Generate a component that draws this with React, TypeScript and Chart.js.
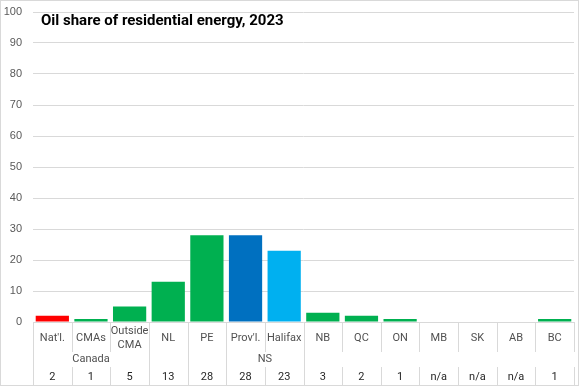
import React, { useEffect, useRef } from "react";
import { Chart, registerables } from "chart.js";

Chart.register(...registerables);

const TITLE = "Oil share of residential energy, 2023";
const categories: string[][] = [
  ["Nat'l."], ["CMAs"], ["Outside", "CMA"], ["NL"], ["PE"], ["Prov'l."], ["Halifax"],
  ["NB"], ["QC"], ["ON"], ["MB"], ["SK"], ["AB"], ["BC"],
];
const values: (number | null)[] = [2, 1, 5, 13, 28, 28, 23, 3, 2, 1, null, null, null, 1];
const valueLabels: string[] = ["2", "1", "5", "13", "28", "28", "23", "3", "2", "1", "n/a", "n/a", "n/a", "1"];
const groupLabels = ["Canada", "NS"];
const groupStart = [0, 5];
const groupEnd = [2, 6];
const barColors = [
  "#ff0000", "#00b050", "#00b050", "#00b050", "#00b050", "#0070c0", "#00b0f0",
  "#00b050", "#00b050", "#00b050", "#00b050", "#00b050", "#00b050", "#00b050",
];
const yTicks = [0, 10, 20, 30, 40, 50, 60, 70, 80, 90, 100];

const LABEL_FONT = "11px Roboto, 'Noto Sans', sans-serif";

const tablePlugin = {
  id: "tablePlugin",
  afterDraw(chart: any) {
    const ctx = chart.ctx;
    const x = chart.scales.x;
    const area = chart.chartArea;
    const n = categories.length;
    const w = (area.right - area.left) / n;
    const top = area.bottom;
    const row1End = top + 30;
    const row3Start = top + 45;
    const bottom = chart.height - 2;
    ctx.save();
    ctx.strokeStyle = "#d9d9d9";
    ctx.lineWidth = 1;
    const fullBounds = new Set<number>([0, 3, 4, 5, 7]);
    for (let i = 0; i <= n; i++) {
      const bx = Math.round(area.left + i * w) + 0.5;
      ctx.beginPath();
      if (fullBounds.has(i)) {
        ctx.moveTo(bx, top);
        ctx.lineTo(bx, bottom);
      } else {
        ctx.moveTo(bx, top);
        ctx.lineTo(bx, row1End);
        ctx.moveTo(bx, row3Start);
        ctx.lineTo(bx, bottom);
      }
      ctx.stroke();
    }
    ctx.fillStyle = "#505050";
    ctx.font = LABEL_FONT;
    ctx.textAlign = "center";
    ctx.textBaseline = "middle";
    categories.forEach((lines, i) => {
      const cx = x.getPixelForValue(i);
      if (lines.length === 1) {
        ctx.fillText(lines[0], cx, top + 16);
      } else {
        ctx.fillText(lines[0], cx, top + 9);
        ctx.fillText(lines[1], cx, top + 23);
      }
    });
    groupLabels.forEach((g, k) => {
      const cx = (x.getPixelForValue(groupStart[k]) + x.getPixelForValue(groupEnd[k])) / 2;
      ctx.fillText(g, cx, top + 37);
    });
    ctx.fillStyle = "#262626";
    valueLabels.forEach((v, i) => {
      ctx.fillText(v, x.getPixelForValue(i), top + 55);
    });
    ctx.fillStyle = "#000000";
    ctx.font = "bold 15px Roboto, 'Noto Sans', sans-serif";
    ctx.textAlign = "left";
    ctx.fillText(TITLE, 41, 21);
    ctx.strokeStyle = "#d9d9d9";
    ctx.strokeRect(0.5, 0.5, chart.width - 2, chart.height - 2);
    ctx.restore();
  },
};

export default function App() {
  const ref = useRef<HTMLCanvasElement>(null);
  useEffect(() => {
    if (!ref.current) return;
    const chart = new Chart(ref.current, {
      type: "bar",
      data: {
        labels: categories.map((c) => c.join(" ")),
        datasets: [
          {
            data: values as any,
            backgroundColor: barColors,
            barPercentage: 0.86,
            categoryPercentage: 1,
          },
        ],
      },
      options: {
        animation: false,
        responsive: false,
        devicePixelRatio: 1,
        layout: { padding: { top: 12, right: 6, bottom: 65, left: 0 } },
        plugins: { legend: { display: false }, tooltip: { enabled: false }, title: { display: false } },
        scales: {
          x: { display: false },
          y: {
            min: 0,
            max: 100,
            afterFit: (s: any) => { s.width = 33; s.paddingTop = 0; s.paddingBottom = 0; },
            afterBuildTicks: (s: any) => { s.ticks = yTicks.map((v) => ({ value: v })); },
            border: { display: false },
            grid: { color: "#d9d9d9", lineWidth: 1, drawTicks: false },
            ticks: {
              color: "#595959",
              font: { family: "'Liberation Sans', Arial, sans-serif", size: 11 },
              padding: 11,
            },
          },
        },
      },
      plugins: [tablePlugin],
    });
    return () => chart.destroy();
  }, []);
  return (
    <div style={{ position: "fixed", left: 0, top: 0, width: 580, height: 387, background: "#fff" }}>
      <canvas ref={ref} width={580} height={387} style={{ display: "block" }} />
    </div>
  );
}
